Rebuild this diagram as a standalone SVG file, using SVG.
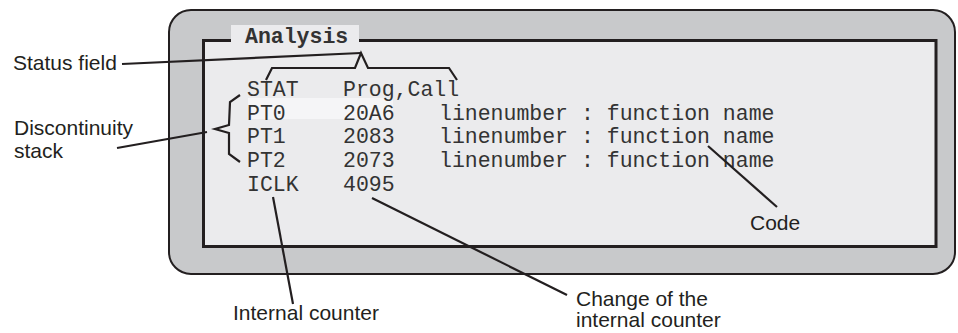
<svg xmlns="http://www.w3.org/2000/svg" width="958" height="333" viewBox="0 0 958 333">
<style>
.mono{font-family:"Liberation Mono","Courier New",monospace;font-size:21.5px;fill:#333333}
.lbl{font-family:"Liberation Sans",Arial,sans-serif;font-size:21px;fill:#231f20}
.ln{fill:none;stroke:#231f20;stroke-width:2.2;stroke-linejoin:miter}
</style>
<rect width="958" height="333" fill="#ffffff"/>
<g id="window">
<rect x="169" y="10" width="786" height="264" rx="22" ry="22" fill="#c8c9cb" stroke="#231f20" stroke-width="2"/>
<rect x="203.5" y="40.5" width="732.5" height="206" fill="#ebebed" stroke="#231f20" stroke-width="3"/>
<rect x="231" y="25" width="128" height="17" fill="#ebebed"/>
<text x="245" y="43" class="mono" font-weight="bold">Analysis</text>
<rect x="248" y="98" width="145" height="21" fill="#f5f5f7"/>
</g>
<g id="rows">
<text x="247" y="96" class="mono">STAT</text>
<text x="343" y="96" class="mono">Prog,Call</text>
<text x="247" y="119.5" class="mono">PT0</text>
<text x="343" y="119.5" class="mono">20A6</text>
<text x="439" y="119.5" class="mono">linenumber : function name</text>
<text x="247" y="143" class="mono">PT1</text>
<text x="343" y="143" class="mono">2083</text>
<text x="439" y="143" class="mono">linenumber : function name</text>
<text x="247" y="167" class="mono">PT2</text>
<text x="343" y="167" class="mono">2073</text>
<text x="439" y="167" class="mono">linenumber : function name</text>
<text x="247" y="191" class="mono">ICLK</text>
<text x="343" y="191" class="mono">4095</text>
</g>
<g id="labels">
<text x="13" y="70" class="lbl">Status field</text>
<text x="14" y="135" class="lbl">Discontinuity</text>
<text x="14" y="158" class="lbl">stack</text>
<text x="750" y="230" class="lbl">Code</text>
<text x="233" y="320" class="lbl">Internal counter</text>
<text x="576" y="306" class="lbl">Change of the</text>
<text x="576" y="327" class="lbl">internal counter</text>
</g>
<g id="connectors">
<path class="ln" d="M266,80 L272,68 L355,68 L361,53 L368,68 L449,68 L457,80"/>
<path class="ln" d="M240,95 L230,102 L229,125 L215,129 L229,133 L229,154 L240,162"/>
<line class="ln" x1="122" y1="64" x2="361" y2="53"/>
<line class="ln" x1="117" y1="148" x2="207" y2="132"/>
<line class="ln" x1="708" y1="146" x2="777" y2="207"/>
<line class="ln" x1="273" y1="197" x2="293" y2="304"/>
<line class="ln" x1="372" y1="198" x2="567" y2="295"/>
</g>
</svg>
